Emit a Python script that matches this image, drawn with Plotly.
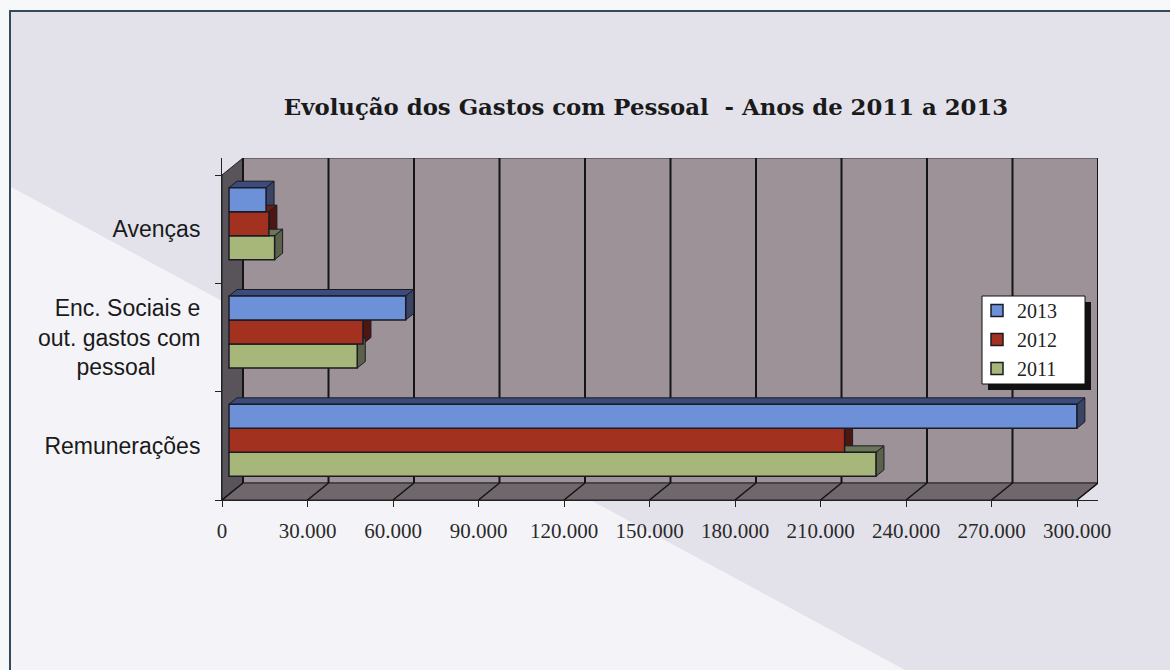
import plotly.graph_objects as go

# ---------------- data ----------------
categories = ["Remunerações", "Enc. Sociais e out. gastos com pessoal", "Avenças"]
category_labels = ["Remunerações",
                   "Enc. Sociais e<br>out. gastos com<br>pessoal" + "\u00a0" * 7,
                   "Avenças"]
series_names = ["2011", "2012", "2013"]
values_2011 = [227000, 45000, 16000]
values_2012 = [216000, 47000, 14000]
values_2013 = [297500, 62000, 13000]
x_tick_values = [0, 30000, 60000, 90000, 120000, 150000, 180000, 210000, 240000, 270000, 300000]
x_tick_labels = ["0", "30.000", "60.000", "90.000", "120.000", "150.000",
                 "180.000", "210.000", "240.000", "270.000", "300.000"]
title_text = "Evolução dos Gastos com Pessoal  - Anos de 2011 a 2013"

# ---------------- styles ----------------
front_colors = ["#a7b77a", "#a3311f", "#6d91d8"]
side_colors = ["#5c624a", "#4d1610", "#3a4566"]
top_colors = ["#6c7556", "#6a1e14", "#3b4b7c"]
edge = "#1b1b26"

W, H = 1170, 670
K = 2.85 / 1000.0          # px per unit on value axis
CY = 108.33                # px per category
AX_L, AX_R = 222, 1098     # px domain of the 3-D box
AX_T, AX_B = 158, 500
FRONT_OFF = (7, 5.5)       # bar plane offset from front plane (px right, px up)
BACK_OFF = (21, 17)        # back wall offset from front plane
BAR_DEPTH = (8, 6.5)
GROUP = 0.665
BW = GROUP / 3

def fx(px):
    return px / W

def fy(py):
    return 1 - py / H

# main axis ranges (bar plane)
x0_px = AX_L + FRONT_OFF[0]
x_min = (AX_L - x0_px) / K
x_max = (AX_R - x0_px) / K
yb_px = AX_B - FRONT_OFF[1]
y_min = -0.5 - (AX_B - yb_px) / CY
y_max = -0.5 + (yb_px - AX_T) / CY

FX = -FRONT_OFF[0] / K
FYd = -FRONT_OFF[1] / CY
BX = (BACK_OFF[0] - FRONT_OFF[0]) / K
BYd = (BACK_OFF[1] - FRONT_OFF[1]) / CY
DBX = BAR_DEPTH[0] / K
DBY = BAR_DEPTH[1] / CY
XMAX = x_tick_values[-1]

def poly(pts, fill, lw=1, lc=edge, ref=("x", "y"), layer="below"):
    d = "M " + " L ".join(f"{a},{b}" for a, b in pts) + " Z"
    return dict(type="path", path=d, xref=ref[0], yref=ref[1], fillcolor=fill,
                line=dict(color=lc, width=lw), layer=layer)

shapes = []
# frame background
shapes.append(dict(type="rect", xref="paper", yref="paper", x0=fx(10), x1=fx(1200),
                   y0=fy(11), y1=fy(700), fillcolor="#e3e2eb",
                   line=dict(color="#34495a", width=2), layer="below"))
shapes.append(poly([(fx(11), fy(187)), (fx(905), fy(670)), (fx(11), fy(670))],
                   "#f4f4f8", lw=0, lc="rgba(0,0,0,0)", ref=("paper", "paper")))

# walls
yb, yt = -0.5, 2.5
shapes.append(poly([(BX, yb + BYd), (XMAX + BX, yb + BYd), (XMAX + BX, yt + BYd), (BX, yt + BYd)],
                   "#9c9298", lw=1, lc="#3a3538"))
shapes.append(poly([(FX, yb + FYd), (FX, yt + FYd), (BX, yt + BYd), (BX, yb + BYd)],
                   "#59535a", lw=1, lc="#222"))
shapes.append(poly([(FX, yb + FYd), (XMAX + FX, yb + FYd), (XMAX + BX, yb + BYd), (BX, yb + BYd)],
                   "#6f676b", lw=1, lc="#222"))
for v in x_tick_values:
    shapes.append(dict(type="line", xref="x", yref="y", x0=v + BX, x1=v + BX,
                       y0=yb + BYd, y1=yt + BYd, line=dict(color="#141414", width=2), layer="below"))
    shapes.append(dict(type="line", xref="x", yref="y", x0=v + FX, x1=v + BX,
                       y0=yb + FYd, y1=yb + BYd, line=dict(color="#141414", width=1.5), layer="below"))

# bar side / top faces (drawn top series first so lower bars overlap)
all_vals = [values_2011, values_2012, values_2013]
positions = list(range(len(categories)))
for k in [2, 1, 0]:
    for p, v in zip(positions, all_vals[k]):
        y0 = p - GROUP / 2 + k * BW
        y1 = y0 + BW
        shapes.append(poly([(v, y0), (v + DBX, y0 + DBY), (v + DBX, y1 + DBY), (v, y1)],
                           side_colors[k]))
        shapes.append(poly([(0, y1), (v, y1), (v + DBX, y1 + DBY), (DBX, y1 + DBY)],
                           top_colors[k]))

fig = go.Figure()
for k, name in enumerate(series_names):
    fig.add_trace(go.Bar(
        y=positions, x=all_vals[k], orientation="h", name=name,
        width=BW, offset=-GROUP / 2 + k * BW,
        marker=dict(color=front_colors[k], line=dict(color=edge, width=1.5)),
        xaxis="x", yaxis="y"))
fig.add_trace(go.Scatter(x=[], y=[], xaxis="x2", yaxis="y2", showlegend=False,
                         hoverinfo="skip"))

# legend box (drawn as shapes, legend itself transparent on top)
BOX = (982, 296, 1085, 384)
shapes.append(dict(type="rect", xref="paper", yref="paper", x0=fx(BOX[0] + 6), x1=fx(BOX[2] + 6),
                   y0=fy(BOX[1] + 6), y1=fy(BOX[3] + 6), fillcolor="#111", line=dict(width=0),
                   layer="above"))
shapes.append(dict(type="rect", xref="paper", yref="paper", x0=fx(BOX[0]), x1=fx(BOX[2]),
                   y0=fy(BOX[1]), y1=fy(BOX[3]), fillcolor="white",
                   line=dict(color="#111", width=1), layer="above"))

fig.update_layout(
    width=W, height=H, autosize=False,
    margin=dict(l=0, r=0, t=0, b=0, autoexpand=False),
    paper_bgcolor="#f7f8fa", plot_bgcolor="rgba(0,0,0,0)",
    barmode="overlay", shapes=shapes,
    title=dict(text=title_text, x=fx(646), y=fy(107), xanchor="center", yanchor="middle",
               xref="paper", yref="paper",
               font=dict(family="DejaVu Serif", size=22.8, color="#1a1a1a", weight="bold")),
    xaxis=dict(domain=[fx(AX_L), fx(AX_R)], range=[x_min, x_max], visible=False, fixedrange=True),
    yaxis=dict(domain=[fy(AX_B), fy(AX_T)], range=[y_min, y_max], visible=False, fixedrange=True),
    xaxis2=dict(overlaying="x", anchor="y2", range=[0, (AX_R - AX_L) / K],
                tickmode="array", tickvals=x_tick_values, ticktext=x_tick_labels,
                ticks="outside", ticklen=6, tickcolor="#222", showline=True,
                linecolor="#222", linewidth=1, showgrid=False, zeroline=False,
                ticklabelstandoff=6, automargin=False,
                tickfont=dict(family="Liberation Serif", size=21, color="#2a2a2a")),
    yaxis2=dict(overlaying="y", anchor="x2", range=[-0.5, -0.5 + (AX_B - AX_T) / CY],
                tickmode="array", tickvals=positions, ticktext=category_labels,
                ticks="outside", ticklen=16, tickcolor="rgba(0,0,0,0)",
                minor=dict(tickmode="array", tickvals=[-0.5, 0.5, 1.5, 2.5],
                           ticks="outside", ticklen=6, tickcolor="#222"),
                showline=True, linecolor="#222", linewidth=1,
                showgrid=False, zeroline=False, automargin=False,
                tickfont=dict(family="Liberation Sans", size=23, color="#1a1a1a")),
    legend=dict(x=fx(977), y=fy(291), xanchor="left", yanchor="top",
                bgcolor="rgba(0,0,0,0)", borderwidth=0,
                traceorder="reversed",
                font=dict(family="Liberation Serif", size=20, color="#222")),
)

fig.write_html("out.html",
               config={"displayModeBar": False, "responsive": False},
               post_script="document.body.style.margin='0';document.body.style.overflow='hidden';")
